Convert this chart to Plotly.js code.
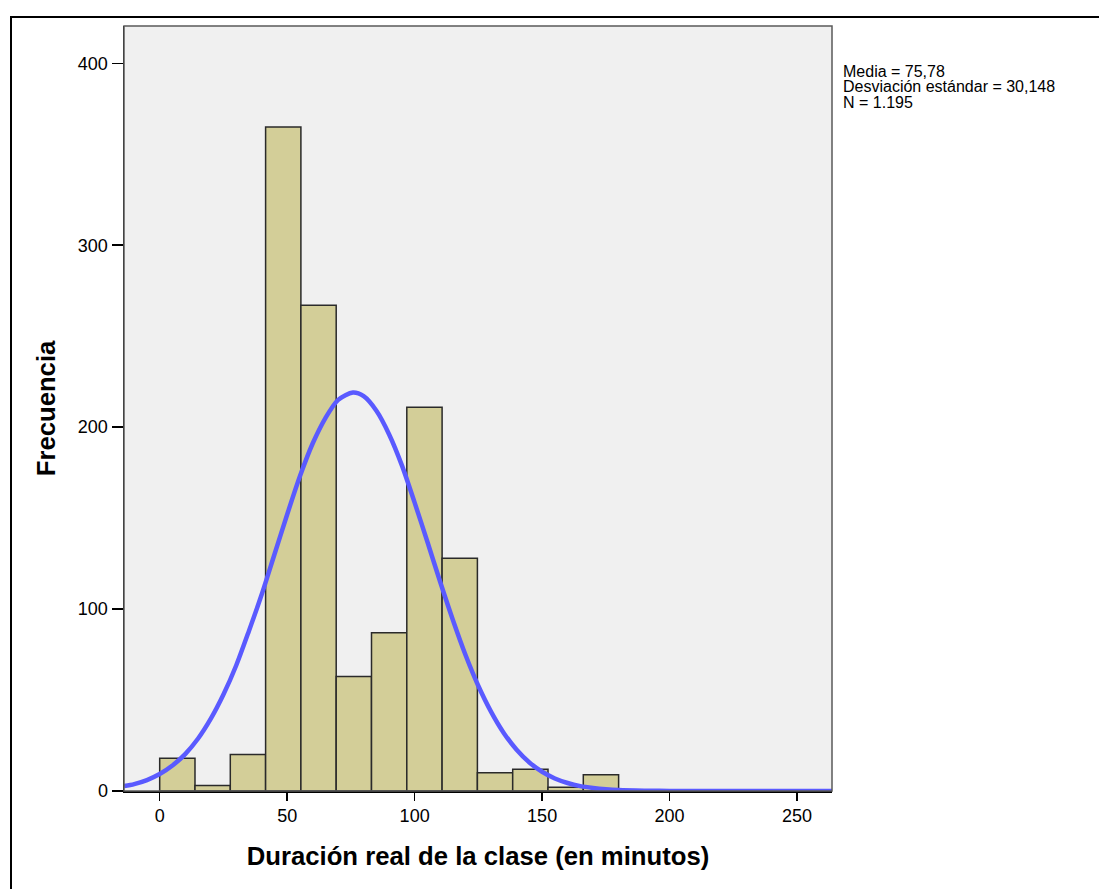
<!DOCTYPE html>
<html>
<head>
<meta charset="utf-8">
<script src="https://cdn.plot.ly/plotly-3.0.1.min.js"></script>
<style>
html, body { margin: 0; padding: 0; background: #ffffff; }
#chart { width: 1099px; height: 889px; }
</style>
</head>
<body>
<div id="chart"></div>
<script>
// Histogram bins (minutes): 13 bins from 0 to 180
const binStart = 0;
const binEnd = 180;
const binCount = 13;
const frequencies = [18, 3, 20, 365, 267, 63, 87, 211, 128, 10, 12, 2, 9];

// Normal curve, points
const curveX = [-14, -10, -5, 0, 5, 10, 15, 20, 25, 30, 35, 40, 45, 50, 55, 60, 65, 70, 75.78,
                80, 85, 90, 95, 100, 105, 110, 115, 120, 125, 130, 135, 140, 145, 150, 155, 160,
                165, 170, 175, 180, 190, 200, 220, 240, 263.7];
const curveY = [2.7, 3.8, 6.0, 9.3, 14, 20.3, 28.7, 39.6, 53, 69, 88, 108, 130, 152, 173, 191, 205, 215, 219,
                217, 209, 196, 179, 158.5, 137, 115, 94, 74.6, 57.7, 43.5, 31.8, 22.7, 15.7, 10.6, 6.9, 4.4,
                2.7, 1.7, 1.0, 0.55, 0.2, 0.05, 0, 0, 0];

const xTicks = [0, 50, 100, 150, 200, 250];
const yTicks = [0, 100, 200, 300, 400];

const statsLines = ["Media = 75,78", "Desviación estándar = 30,148", "N = 1.195"];

const xTitle = "Duración real de la clase (en minutos)";
const yTitle = "Frecuencia";

const binWidth = (binEnd - binStart) / binCount;
const binCenters = frequencies.map((_, i) => binStart + binWidth * (i + 0.5));

const bars = {
  type: 'bar',
  x: binCenters,
  y: frequencies,
  width: frequencies.map(() => binWidth),
  marker: { color: '#d3ce98', line: { color: '#2a2a2a', width: 1.5 } },
  hoverinfo: 'x+y',
  showlegend: false
};

const curve = {
  type: 'scatter',
  mode: 'lines',
  x: curveX,
  y: curveY,
  line: { color: 'rgb(90,90,255)', width: 4.5, shape: 'spline', smoothing: 0.8 },
  hoverinfo: 'skip',
  showlegend: false
};

const font = "Liberation Sans, Arial, sans-serif";

const annotations = statsLines.map((t, i) => ({
  xref: 'paper', yref: 'paper',
  x: 1.0141, y: [0.9399, 0.9204, 0.8995][i],
  xanchor: 'left', yanchor: 'middle',
  text: t, showarrow: false,
  font: { family: font, size: 16, color: '#000' },
  borderpad: 0
}));

const layout = {
  width: 1099, height: 889,
  margin: { l: 124, r: 267, t: 26, b: 98 },
  paper_bgcolor: '#ffffff',
  plot_bgcolor: '#f0f0f0',
  bargap: 0,
  font: { family: font, color: '#000' },
  xaxis: {
    range: [-14, 263.7],
    tickvals: xTicks,
    ticktext: xTicks.map(String),
    ticks: 'outside', ticklen: 8, tickwidth: 1.5, tickcolor: '#000',
    showline: true, linecolor: '#000', linewidth: 1.5,
    showgrid: false, zeroline: false,
    tickfont: { family: font, size: 18, color: '#000' },
    title: { text: xTitle, font: { family: font, size: 25.7, color: '#000', weight: 'bold' }, standoff: 22 }
  },
  yaxis: {
    range: [0, 420.5],
    tickvals: yTicks,
    ticktext: yTicks.map(String),
    ticks: 'outside', ticklen: 11, tickwidth: 1.5, tickcolor: '#000',
    showline: true, linecolor: '#000', linewidth: 1.5,
    showgrid: false, zeroline: false,
    tickfont: { family: font, size: 18, color: '#000' },
    title: { text: yTitle, font: { family: font, size: 25.7, color: '#000', weight: 'bold' }, standoff: 15 }
  },
  shapes: [
    { type: 'rect', xref: 'paper', yref: 'paper', x0: 0, x1: 1, y0: 0, y1: 1,
      line: { color: '#5a5a5a', width: 1.5 }, layer: 'above' },
    { type: 'rect', xref: 'paper', yref: 'paper', x0: -0.1596, x1: 1.6, y0: -0.3, y1: 1.0118,
      line: { color: '#000', width: 2 }, layer: 'below' }
  ],
  annotations: annotations
};

Plotly.newPlot('chart', [bars, curve], layout, { displayModeBar: false, staticPlot: true });
</script>
</body>
</html>
